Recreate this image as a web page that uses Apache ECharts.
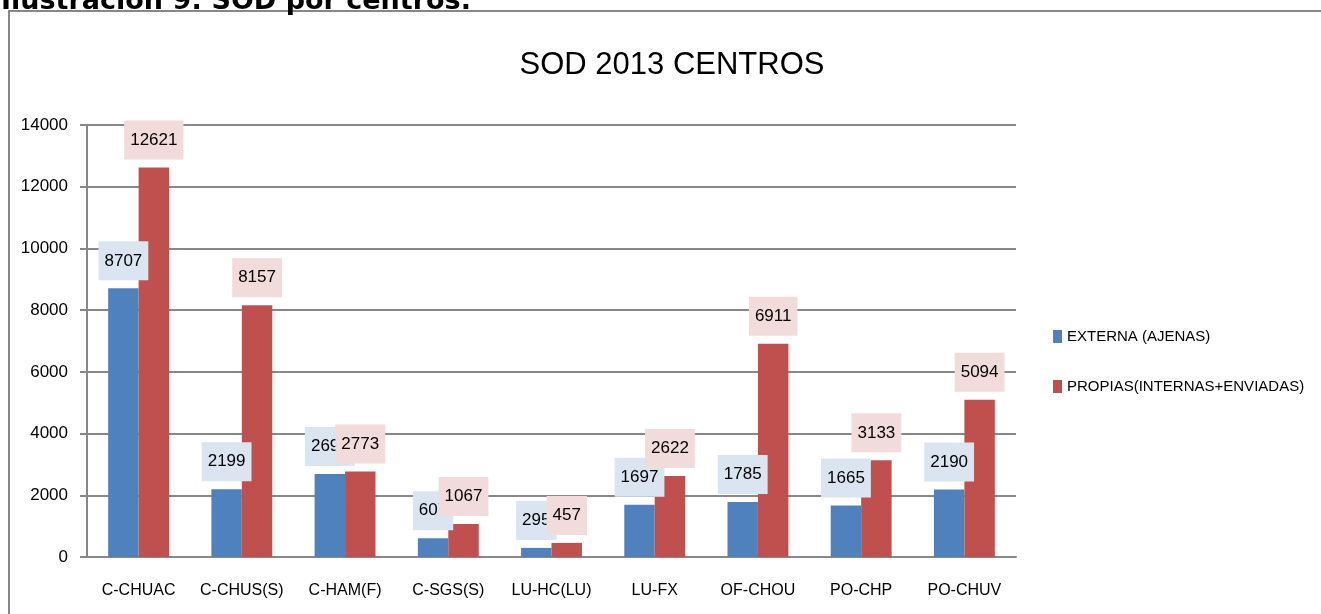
<!DOCTYPE html>
<html>
<head>
<meta charset="utf-8">
<script src="https://cdn.jsdelivr.net/npm/echarts@6/dist/echarts.min.js"></script>
<style>
  html, body { margin: 0; padding: 0; background: #fff; }
  #main { width: 1321px; height: 614px; }
</style>
</head>
<body>
<div id="main"></div>
<script>
const centros = ['C-CHUAC', 'C-CHUS(S)', 'C-HAM(F)', 'C-SGS(S)', 'LU-HC(LU)', 'LU-FX', 'OF-CHOU', 'PO-CHP', 'PO-CHUV']
const externa = [8707, 2199, 2690, 607, 295, 1697, 1785, 1665, 2190]
const propias = [12621, 8157, 2773, 1067, 457, 2622, 6911, 3133, 5094]
const yTicks = [0, 2000, 4000, 6000, 8000, 10000, 12000, 14000]

const narrow = '"Liberation Sans Narrow", "Liberation Sans", sans-serif'

function barLabel (bg) {
  return {
    show: true,
    position: 'top',
    distance: 8,
    color: '#000',
    fontFamily: narrow,
    fontSize: 17,
    backgroundColor: bg,
    padding: [11, 6]
  }
}

const myChart = echarts.init(document.getElementById('main'))

myChart.setOption({
  backgroundColor: '#fff',
  animation: false,
  graphic: [
    {
      type: 'rect',
      shape: { x: 9, y: 11, width: 1330, height: 620 },
      style: { fill: 'none', stroke: '#888', lineWidth: 2 }
    },
    {
      type: 'text',
      left: 1,
      top: -12,
      style: {
        text: 'Ilustración 9: SOD por centros.',
        fontFamily: '"DejaVu Sans", sans-serif',
        fontWeight: 'bold',
        fontSize: 27,
        fill: '#000'
      }
    }
  ],
  title: {
    text: 'SOD 2013 CENTROS',
    left: 667,
    textAlign: 'center',
    top: 45,
    textStyle: {
      fontFamily: narrow,
      fontWeight: 'normal',
      fontSize: 31,
      color: '#000'
    }
  },
  legend: {
    orient: 'vertical',
    left: 1048,
    top: 324,
    icon: 'rect',
    itemWidth: 9,
    itemHeight: 13,
    itemGap: 35,
    textStyle: { fontFamily: narrow, fontSize: 15, color: '#000' },
    data: ['EXTERNA (AJENAS)', 'PROPIAS(INTERNAS+ENVIADAS)']
  },
  grid: { left: 87, right: 305, top: 125, bottom: 57 },
  xAxis: {
    type: 'category',
    data: centros,
    axisLine: { lineStyle: { color: '#888', width: 2 } },
    axisTick: { length: 8, lineStyle: { color: '#888', width: 2 } },
    axisLabel: { color: '#000', fontFamily: narrow, fontSize: 16, margin: 26, interval: 0 }
  },
  yAxis: {
    type: 'value',
    min: yTicks[0],
    max: yTicks[yTicks.length - 1],
    interval: yTicks[1] - yTicks[0],
    axisLine: { show: true, lineStyle: { color: '#888', width: 2 } },
    axisTick: { show: true, length: 7, lineStyle: { color: '#888', width: 2 } },
    axisLabel: {
      color: '#000',
      fontFamily: narrow,
      fontSize: 17,
      margin: 19,
      formatter: (v) => String(v)
    },
    splitLine: { lineStyle: { color: '#888', width: 2 } }
  },
  series: [
    {
      name: 'EXTERNA (AJENAS)',
      type: 'bar',
      data: externa,
      barGap: '0%',
      barCategoryGap: '41%',
      itemStyle: { color: '#4f81bd' },
      label: barLabel('#dbe5f1')
    },
    {
      name: 'PROPIAS(INTERNAS+ENVIADAS)',
      type: 'bar',
      data: propias,
      barGap: '0%',
      barCategoryGap: '41%',
      itemStyle: { color: '#c0504d' },
      label: barLabel('#f2dcdb')
    }
  ]
})
</script>
</body>
</html>
